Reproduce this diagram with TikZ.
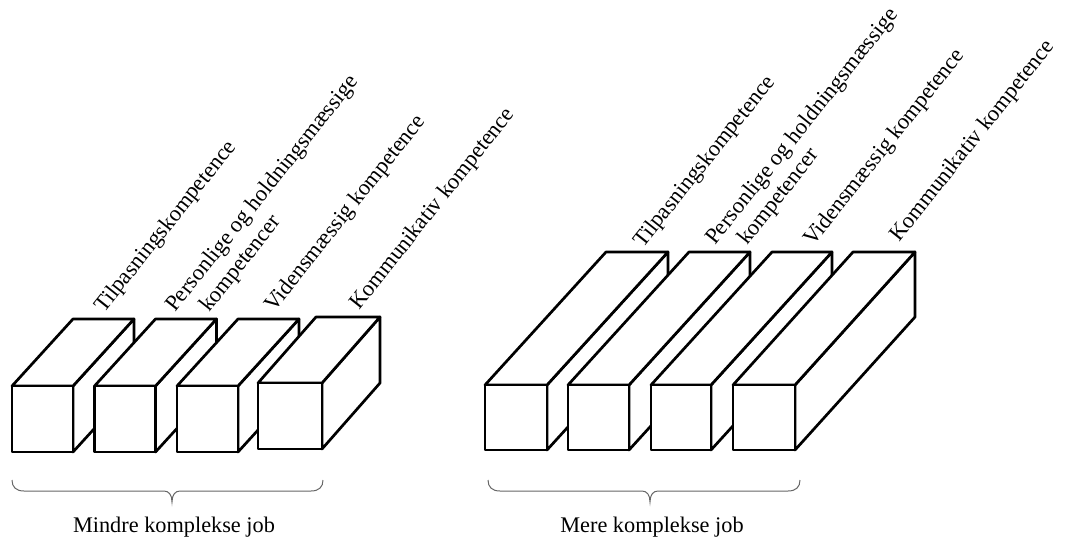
\documentclass[tikz,border=0pt]{standalone}
\usepackage{fontspec}
\setmainfont{Liberation Serif}
\newcommand\mybox[6]{%
  % #1 x, #2 top y, #3 width, #4 height, #5 depth dx, #6 depth rise
  \path[boxline] ({#1+#3},{#2}) -- ({#1+#3+#5},{#2-#6}) -- ({#1+#3+#5},{#2+#4-#6}) -- ({#1+#3},{#2+#4}) -- cycle;
  \path[boxline] ({#1},{#2}) -- ({#1+#5},{#2-#6}) -- ({#1+#3+#5},{#2-#6}) -- ({#1+#3},{#2}) -- cycle;
  \path[boxline] ({#1},{#2}) rectangle ({#1+#3},{#2+#4});
}
\newcommand\mybrace[3]{%
  % #1 left x, #2 right x, #3 centre x
  \draw[bracestyle] ({#1},480) .. controls ({#1},487) and ({#1+4},491) .. ({#1+12},491)
    -- ({#3-8},491) .. controls ({#3-3},491) and ({#3},495) .. ({#3},502)
    .. controls ({#3},495) and ({#3+3},491) .. ({#3+8},491)
    -- ({#2-12},491) .. controls ({#2-4},491) and ({#2},487) .. ({#2},480);
}
\begin{document}
\begin{tikzpicture}[x=1pt,y=-1pt,
  boxline/.style={draw=black,fill=white,line width=2.7pt,line join=round},
  bracestyle/.style={draw=black!60,line width=1pt},
  rotlabel/.style={rotate=51.5,anchor=base west,inner sep=0pt,font=\fontsize{22.5}{27}\selectfont},
  grouplabel/.style={anchor=base,inner sep=0pt,font=\fontsize{22.3}{26}\selectfont}]
\useasboundingbox (0,0) rectangle (1067,541);
% left group
\mybox{12}{386}{61}{66}{61}{67}
\mybox{94.5}{386}{61}{66}{61}{67}
\mybox{177}{386}{61}{66}{61}{67}
\mybox{258}{383}{64}{66}{58}{66}
% right group
\mybox{485}{385}{62}{65}{121}{133}
\mybox{568}{385}{61}{65}{121}{133}
\mybox{651}{385}{60}{65}{121}{133}
\mybox{733}{385}{62}{65}{120}{133}
% labels left
\node[rotlabel] (l1) at (104,314) {Tilpasningskompetence};
\node[rotlabel] (l2) at (175,313) {Personlige og holdningsmæssige};
\node[rotlabel] (l2b) at (209,313) {kompetencer};
\node[rotlabel] (l3) at (274,313) {Vidensmæssig kompetence};
\node[rotlabel] (l4) at (359,311) {Kommunikativ kompetence};
% labels right
\node[rotlabel] (r1) at (643,249) {Tilpasningskompetence};
\node[rotlabel] (r2) at (715,246) {Personlige og holdningsmæssige};
\node[rotlabel] (r2b) at (747,246) {kompetencer};
\node[rotlabel] (r3) at (813,247) {Vidensmæssig kompetence};
\node[rotlabel] (r4) at (899,243) {Kommunikativ kompetence};
% braces
\mybrace{12}{323}{172}
\mybrace{488}{800}{650}
\node[grouplabel] (gl) at (174,532) {Mindre komplekse job};
\node[grouplabel] (gr) at (652,532) {Mere komplekse job};
\end{tikzpicture}
\end{document}
